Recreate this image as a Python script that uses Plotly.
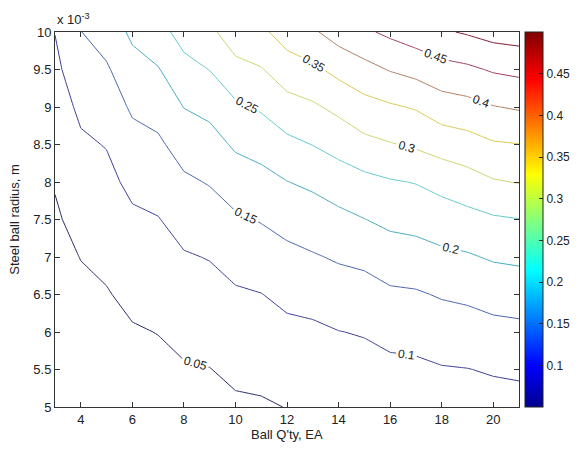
import plotly.graph_objects as go

# Ball quantity (EA)
ball_qty = [3, 4, 5, 6, 7, 8, 9, 10, 11, 12, 13, 14, 15, 16, 17, 18, 19, 20, 21]
# Steel ball radius (x 10^-3 m)
radius = [5.0, 5.5, 6.0, 6.5, 7.0, 7.5, 8.0, 8.5, 9.0, 9.5, 10.0]

# values (row per radius, column per ball quantity)
z_r50 = [0.013, 0.019, 0.022, 0.027, 0.029, 0.035, 0.037, 0.043, 0.045, 0.051, 0.056, 0.063, 0.065, 0.069, 0.072, 0.076, 0.079, 0.082, 0.084]
z_r55 = [0.017, 0.025, 0.029, 0.036, 0.039, 0.046, 0.049, 0.059, 0.062, 0.070, 0.075, 0.081, 0.084, 0.089, 0.091, 0.097, 0.099, 0.104, 0.107]
z_r60 = [0.023, 0.032, 0.037, 0.046, 0.051, 0.062, 0.067, 0.077, 0.080, 0.089, 0.092, 0.099, 0.103, 0.113, 0.116, 0.124, 0.128, 0.135, 0.138]
z_r65 = [0.029, 0.041, 0.047, 0.061, 0.066, 0.079, 0.084, 0.094, 0.099, 0.111, 0.116, 0.127, 0.131, 0.142, 0.145, 0.154, 0.159, 0.168, 0.172]
z_r70 = [0.036, 0.051, 0.060, 0.076, 0.082, 0.096, 0.102, 0.118, 0.125, 0.137, 0.146, 0.155, 0.161, 0.176, 0.180, 0.190, 0.195, 0.205, 0.209]
z_r75 = [0.044, 0.065, 0.074, 0.092, 0.098, 0.118, 0.127, 0.143, 0.153, 0.167, 0.176, 0.187, 0.199, 0.211, 0.216, 0.225, 0.234, 0.244, 0.249]
z_r80 = [0.053, 0.079, 0.088, 0.111, 0.120, 0.142, 0.153, 0.174, 0.184, 0.199, 0.209, 0.225, 0.236, 0.246, 0.252, 0.266, 0.280, 0.296, 0.302]
z_r85 = [0.065, 0.093, 0.102, 0.133, 0.142, 0.170, 0.181, 0.207, 0.218, 0.238, 0.251, 0.267, 0.287, 0.297, 0.307, 0.321, 0.330, 0.345, 0.349]
z_r90 = [0.077, 0.109, 0.123, 0.157, 0.168, 0.201, 0.213, 0.241, 0.256, 0.281, 0.293, 0.312, 0.333, 0.344, 0.354, 0.376, 0.384, 0.398, 0.405]
z_r95 = [0.089, 0.130, 0.144, 0.183, 0.197, 0.234, 0.251, 0.286, 0.297, 0.327, 0.340, 0.364, 0.384, 0.403, 0.416, 0.433, 0.441, 0.455, 0.462]
z_r100 = [0.101, 0.149, 0.172, 0.209, 0.232, 0.269, 0.290, 0.325, 0.340, 0.372, 0.393, 0.422, 0.442, 0.460, 0.476, 0.494, 0.505, 0.518, 0.523]

z_grid = [z_r50, z_r55, z_r60, z_r65, z_r70, z_r75, z_r80, z_r85, z_r90, z_r95, z_r100]

x_ticks = [4, 6, 8, 10, 12, 14, 16, 18, 20]
y_ticks = [5, 5.5, 6, 6.5, 7, 7.5, 8, 8.5, 9, 9.5, 10]
y_tick_text = ["5", "5.5", "6", "6.5", "7", "7.5", "8", "8.5", "9", "9.5", "10"]
cbar_ticks = [0.1, 0.15, 0.2, 0.25, 0.3, 0.35, 0.4, 0.45]
cbar_tick_text = ["0.1", "0.15", "0.2", "0.25", "0.3", "0.35", "0.4", "0.45"]
level_start, level_end, level_step = 0.05, 0.5, 0.05

# MATLAB "jet" for the colour bar
jet = [
    [0.0, "rgb(0,0,143)"],
    [0.11, "rgb(0,0,255)"],
    [0.365, "rgb(0,255,255)"],
    [0.62, "rgb(255,255,0)"],
    [0.873, "rgb(255,0,0)"],
    [1.0, "rgb(128,0,0)"],
]
# thin anti-aliased jet lines look muted in the reference
jet_lines = [
    [0.0, "rgb(40,40,100)"],
    [0.111, "rgb(60,60,150)"],
    [0.222, "rgb(70,100,170)"],
    [0.333, "rgb(70,170,190)"],
    [0.444, "rgb(100,200,200)"],
    [0.556, "rgb(205,212,110)"],
    [0.667, "rgb(220,200,80)"],
    [0.778, "rgb(175,125,95)"],
    [0.889, "rgb(160,60,90)"],
    [1.0, "rgb(125,25,50)"],
]

FONT = "Liberation Sans, Arial, sans-serif"
TXT = "#222"

fig = go.Figure()
fig.add_trace(go.Contour(
    x=ball_qty, y=radius, z=z_grid,
    colorscale=jet_lines, zmin=level_start, zmax=level_end,
    autocontour=False,
    contours=dict(start=level_start, end=level_end, size=level_step,
                  coloring="lines", showlabels=True,
                  labelfont=dict(family=FONT, size=12, color=TXT),
                  labelformat=".2~f"),
    line=dict(width=1, smoothing=0),
    showscale=False,
    hoverinfo="skip",
))

# continuous colour bar (MATLAB style)
fig.add_trace(go.Scatter(
    x=[None], y=[None], mode="markers",
    marker=dict(color=[level_start, level_end], colorscale=jet,
                cmin=level_start, cmax=level_end, showscale=True,
                colorbar=dict(
                    x=1.0129, xanchor="left", xref="paper",
                    y=0.5, yanchor="middle", len=1.0, lenmode="fraction",
                    thickness=18, thicknessmode="pixels", xpad=0, ypad=0,
                    outlinecolor="#222", outlinewidth=1,
                    tickvals=cbar_ticks, ticktext=cbar_tick_text,
                    ticks="inside", ticklen=4, tickcolor="#222",
                    tickfont=dict(family=FONT, size=12, color=TXT),
                )),
    showlegend=False, hoverinfo="skip",
))

axis_common = dict(showgrid=False, zeroline=False, showline=True, linecolor="#333",
                   linewidth=1, mirror="ticks", ticks="inside", ticklen=5,
                   tickcolor="#333", tickfont=dict(family=FONT, size=13, color=TXT))

fig.update_xaxes(range=[3, 21], tickvals=x_ticks, **axis_common)
fig.update_yaxes(range=[5, 10], tickvals=y_ticks, ticktext=y_tick_text, **axis_common)

# the page adds an 8px body margin on every side; keep the figure inside the window
fig.update_layout(
    width=565, height=434,
    margin=dict(l=47, r=54, t=24, b=35, autoexpand=False),
    paper_bgcolor="white", plot_bgcolor="white",
    font=dict(family=FONT, size=13, color=TXT),
    showlegend=False,
    annotations=[
        dict(text="Steel ball radius, m", x=-0.088, y=0.5, xref="paper", yref="paper",
             textangle=-90, showarrow=False, xanchor="center", yanchor="middle",
             font=dict(family=FONT, size=13, color=TXT)),
        dict(text="Ball Q'ty, EA", x=0.5, y=-0.073, xref="paper", yref="paper",
             showarrow=False, xanchor="center", yanchor="middle",
             font=dict(family=FONT, size=13, color=TXT)),
        dict(text="x 10<sup>-3</sup>", x=0.0, y=1.035, xref="paper", yref="paper",
             showarrow=False, xanchor="left", yanchor="middle",
             font=dict(family=FONT, size=13, color=TXT)),
    ],
)

fig.write_html("out.html")
